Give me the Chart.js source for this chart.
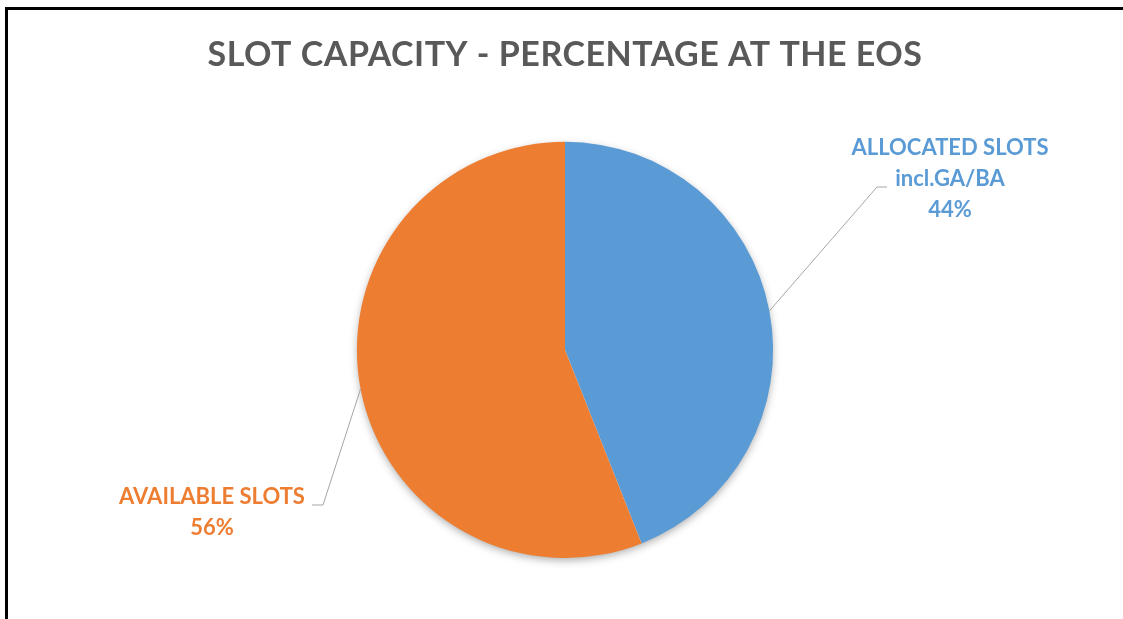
<!DOCTYPE html>
<html>
<head>
<meta charset="utf-8">
<title>Slot capacity</title>
<script src="https://cdn.jsdelivr.net/npm/chart.js@4.4.1/dist/chart.umd.min.js"></script>
<style>
  html, body { margin: 0; padding: 0; background: #fff; }
  #wrap { position: relative; width: 1123px; height: 619px; }
</style>
</head>
<body>
<div id="wrap"><canvas id="slotChart" width="1123" height="619"></canvas></div>
<script>
const titleText = 'SLOT CAPACITY - PERCENTAGE AT THE EOS';
const slotLabels = [['ALLOCATED SLOTS', 'incl.GA/BA'], ['AVAILABLE SLOTS']];
const slotShares = [44, 56];
const slotColors = ['#5B9BD5', '#ED7D31'];

// where each callout text sits and where its leader line bends
const calloutText = [{ x: 950, y: 147.5 }, { x: 212, y: 496.5 }];
const calloutElbow = [{ x: 877, y: 187, end: 887 }, { x: 323, y: 505, end: 312 }];

const labelFont = '700 22px Lato';
const lineGap = 31;

// title gets a touch of tracking, everything else none
const titleSpacing = {
  id: 'titleSpacing',
  beforeDraw(chart) { chart.ctx.letterSpacing = '0.5px'; },
  beforeDatasetsDraw(chart) { chart.ctx.letterSpacing = '0px'; }
};

// soft shadow under the whole pie
const pieShadow = {
  id: 'pieShadow',
  beforeDatasetsDraw(chart) {
    const arc = chart.getDatasetMeta(0).data[0];
    if (!arc) return;
    const { x, y, outerRadius } = arc.getProps(['x', 'y', 'outerRadius'], true);
    const ctx = chart.ctx;
    ctx.save();
    ctx.shadowColor = 'rgba(0,0,0,0.35)';
    ctx.shadowBlur = 9;
    ctx.shadowOffsetY = 3;
    ctx.fillStyle = '#fff';
    ctx.beginPath();
    ctx.arc(x, y, outerRadius - 1, 0, Math.PI * 2);
    ctx.fill();
    ctx.restore();
  }
};

// callouts with leader lines + the outer frame
const callouts = {
  id: 'callouts',
  afterDraw(chart) {
    const ctx = chart.ctx;
    const meta = chart.getDatasetMeta(0);
    const total = slotShares.reduce((a, b) => a + b, 0);
    ctx.save();
    meta.data.forEach((arc, i) => {
      const p = arc.getProps(['x', 'y', 'startAngle', 'endAngle', 'outerRadius'], true);
      const mid = (p.startAngle + p.endAngle) / 2;
      const sx = p.x + Math.cos(mid) * p.outerRadius;
      const sy = p.y + Math.sin(mid) * p.outerRadius;
      const e = calloutElbow[i];
      ctx.strokeStyle = '#A6A6A6';
      ctx.lineWidth = 1;
      ctx.beginPath();
      ctx.moveTo(sx, sy);
      ctx.lineTo(e.x, e.y);
      ctx.lineTo(e.end, e.y);
      ctx.stroke();

      const lines = slotLabels[i].concat([Math.round(slotShares[i] / total * 100) + '%']);
      ctx.fillStyle = slotColors[i];
      ctx.font = labelFont;
      ctx.textAlign = 'center';
      ctx.textBaseline = 'middle';
      lines.forEach((t, j) => {
        ctx.fillText(t, calloutText[i].x, calloutText[i].y + j * lineGap);
      });
    });

    ctx.strokeStyle = '#000';
    ctx.lineWidth = 3;
    ctx.beginPath();
    ctx.moveTo(6.5, chart.height);
    ctx.lineTo(6.5, 8.5);
    ctx.lineTo(chart.width, 8.5);
    ctx.stroke();
    ctx.restore();
  }
};

const ctx = document.getElementById('slotChart').getContext('2d');
const slotChart = new Chart(ctx, {
  type: 'pie',
  data: {
    labels: slotLabels.map(l => l.join(' ')),
    datasets: [{
      data: slotShares,
      backgroundColor: slotColors,
      borderWidth: 0
    }]
  },
  options: {
    responsive: false,
    animation: false,
    layout: { padding: { top: 0, bottom: 61, left: 7, right: 0 } },
    plugins: {
      legend: { display: false },
      tooltip: { enabled: false },
      title: {
        display: true,
        text: titleText,
        color: '#595959',
        font: { family: 'Lato', size: 34, weight: '700', lineHeight: 1.2 },
        padding: { top: 35, bottom: 66 }
      }
    }
  },
  plugins: [titleSpacing, pieShadow, callouts]
});
</script>
</body>
</html>
